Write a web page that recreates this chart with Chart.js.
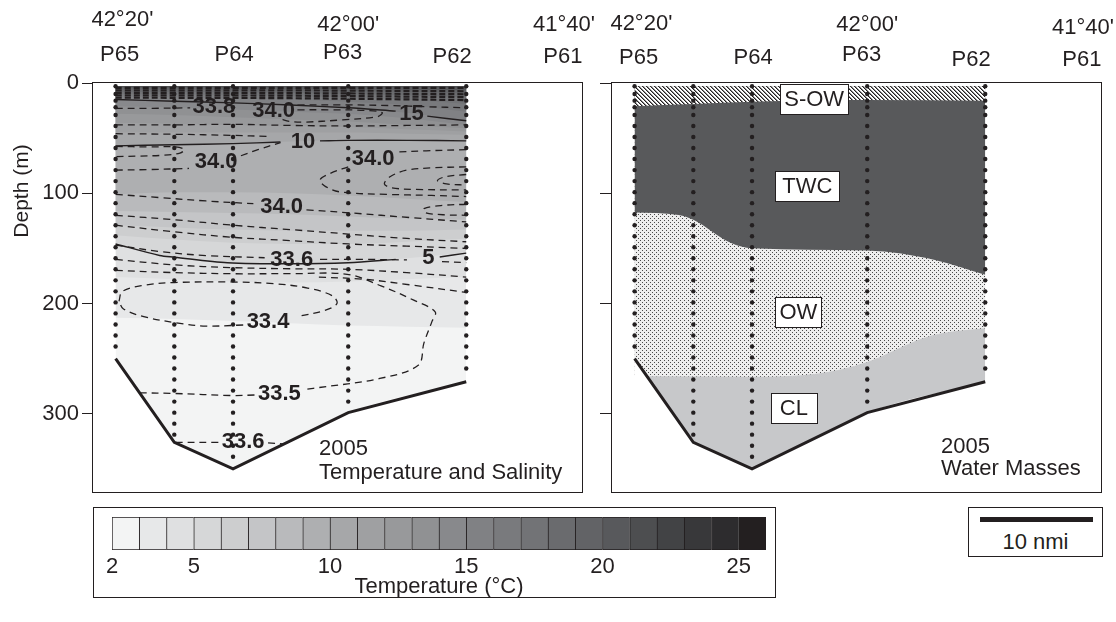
<!DOCTYPE html>
<html lang="en">
<head>
<meta charset="utf-8">
<title>2005 section: temperature, salinity and water masses</title>
<script src="https://cdn.jsdelivr.net/npm/chart.js@4.4.1/dist/chart.umd.min.js"></script>
<style>
  html, body { margin: 0; padding: 0; background: #fff; }
  body { position: relative; width: 1116px; height: 622px; overflow: hidden;
         font-family: "Liberation Sans", Arial, Helvetica, sans-serif; color: #231f20; }
  canvas { position: absolute; display: block; }
  #ts { left: 0; top: 0; }
  #wm { left: 600px; top: 0; }
  #cb { left: 93px; top: 507px; }
  #scale { position: absolute; left: 968px; top: 507px; width: 135px; height: 50px;
           border: 1px solid #231f20; box-sizing: border-box; }
  #scaleBar { position: absolute; left: 11px; top: 9px; height: 5px; background: #231f20; }
  #scaleText { position: absolute; left: 0; right: 0; top: 22px; text-align: center;
               font-size: 22px; line-height: 24px; }
</style>
</head>
<body>
<canvas id="ts" width="600" height="520"></canvas>
<canvas id="wm" width="516" height="500"></canvas>
<canvas id="cb" width="683" height="91"></canvas>
<div id="scale"><div id="scaleBar"></div><div id="scaleText">10 nmi</div></div>
<script>
const FONT = '"Liberation Sans", Arial, Helvetica, sans-serif';
const INK = '#231f20';

// ---- section frame (distance along the section in nmi, depth in m) ----
const distMax = 43.3;
const depthMax = 371;
const surfaceDepth = 3;
const depthTicks = [0, 100, 200, 300];
const scaleBarNmi = 10;

// ---- CTD stations ----
const stationDist   = [2.0, 7.2, 12.4, 22.6, 33.05];
const bottomDepth   = [250, 326, 350, 299, 271];
const deepestSample = [241, 320, 343, 292, 261];
const sampleDepths  = [3, 10, 16, 22, 29, 39, 49, 59, 69, 79, 89, 99, 109, 119, 129, 139, 149, 159,
                       169, 179, 189, 199, 209, 219, 229, 239, 249, 259, 269, 279, 289, 299, 309, 319, 329, 339];

// ---- header labels ----
const stationNames    = ['P65', 'P64', 'P63', 'P62', 'P61'];
const stationNameDist = [2.35, 12.5, 22.1, 31.8, 41.6];
const latNames        = ["42\u00b020'", "42\u00b000'", "41\u00b040'"];
const latDist         = [2.6, 22.6, 41.7];

// ---- temperature field: isotherm depths (m) on the contour grid ----
const contourGrid = [2.0, 7.2, 12.4, 17.5, 22.6, 27.8, 33.05];
const isoTemps = [3, 4, 5, 6, 7, 8, 9, 10, 11, 12, 13, 14, 15, 16, 17, 18, 19, 20, 21];
const isoDepths = [
  [213, 214, 216, 218, 220, 221, 222],   // 3
  [176, 178, 180, 181, 180, 178, 176],   // 4
  [146, 158, 163, 164, 163, 159, 154],   // 5
  [138, 142, 145, 146, 146, 144, 141],   // 6
  [129, 131, 133, 134, 134, 134, 133],   // 7
  [116, 117, 118, 119, 121, 123, 124],   // 8
  [101,  99,  99, 100, 102, 105, 108],   // 9
  [ 57,  56,  55,  53,  52,  52, 52.5],  // 10
  [ 45,  45,  45,  45,  45,  46,  47],   // 11
  [ 36,  37,  38,  39,  40,  42,  44],   // 12
  [ 28,  29,  31,  33,  35,  38,  41],   // 13
  [ 21,  22,  24,  26,  28,  32,  38],   // 14
  [ 15, 16.5, 18,  20, 22.5, 27,  34],   // 15
  [ 12,  13,  14,  15,  17,  20,  26],   // 16
  [ 10, 10.5, 11,  12,  13,  15,  19],   // 17
  [  8,   8, 8.5,   9,  10,  11,  13],   // 18
  [  6,   6, 6.5,   7, 7.5,   8,   9],   // 19
  [4.5, 4.5,   5, 5.2, 5.5,   6, 6.5],   // 20
  [3.6, 3.6, 3.8, 3.8,   4,   4, 4.2]    // 21
];

// labelled isotherms (null = gap for the label)
const iso15Line = [[2.0, 15], [7.2, 16.5], [12.4, 18], [17.5, 20], [22.6, 22.5], [26.8, 25.5], null, [29.6, 30], [33.05, 34.3]];
const iso10Line = [[2.0, 57], [7.2, 56], [12.4, 55], [16.6, 53.5], null, [20.1, 52.5], [22.6, 52], [27.8, 52], [33.05, 52.5]];
const iso5Line  = [[2.0, 146], [5.9, 156.5], [7.2, 158], [11.9, 163], [17.5, 164], [22.6, 163], [26.8, 160], null, [30.7, 157.8], [33.05, 154.3]];

// ---- salinity field: isohaline traces (null = gap for the label) ----
const salSurface = [
  [[2.0, 4.5], [33.05, 4.5]],
  [[2.0, 6.7], [17.5, 6.7], [33.05, 7.5]],
  [[2.0, 8.9], [17.5, 9.2], [33.05, 10.2]],
  [[2.0, 11.1], [17.5, 11.5], [33.05, 12.8]],
  [[2.0, 13.3], [17.5, 13.8], [33.05, 15.5]]
];
const salContours = [
  [[2.0, 23], [5, 23], [8.6, 22.5]],
  [[18.1, 20], [22, 19.8], [26.5, 20.5], [29.5, 21.5], [33.05, 22.5]],
  [[18.1, 24.3], [21, 24.3], [24, 24.8], [25.6, 26.8], [25.2, 30.5], [22, 33.5], [18.6, 35.5], [17.4, 34.8], [16.6, 32.5]],
  [[2.0, 38], [7.2, 38], [12.4, 37.5], [17.5, 38.5], [22.6, 39], [27.8, 38.5], [33.05, 38]],
  [[2.0, 46], [7.2, 46.5], [12.4, 47.5], [15.5, 48.5]],
  [[2.0, 57.5], [5, 58], [7.3, 58], [8.1, 60.5], [7.7, 63.5], [6.3, 65.5], [4, 66.3], [2.0, 66.8]],
  [[2.0, 79], [5, 78.5], [8.5, 77.5], null, [13.1, 66], [14.6, 60.5], [16.6, 54]],
  [[33.05, 60.5], [29.5, 61.5], [26.9, 62.5], null, [22.6, 76], [21, 82], [20.1, 88], [20.6, 94], [22, 99], [26, 101], [30, 102], [33.05, 103]],
  [[33.05, 76], [30, 77], [27.8, 79], [26.3, 85], [25.8, 91.5], [26.4, 95], [28.5, 96.5], [33.05, 97]],
  [[33.05, 83], [31.2, 85], [30.5, 88.5], [31.3, 91.5], [33.05, 92.5]],
  [[2.0, 101], [6, 104], [10, 107], [14.2, 109.5], null, [18.9, 115], [23, 118], [28, 122], [33.05, 126]],
  [[33.05, 110], [31, 111], [29.3, 114], [29.4, 117.5], [31, 119.5], [33.05, 120]],
  [[2.0, 120], [7.2, 124], [12.4, 129], [17.5, 133], [22.6, 137], [27.8, 141], [33.05, 144]],
  [[2.0, 129], [7.2, 135], [12.4, 140], [17.5, 143], [22.6, 146], [27.8, 148], [33.05, 150]],
  [[2.0, 147], [6, 153], [10, 156.5], [15.2, 158.5], null, [20.1, 160], [24, 160], [27.8, 160.5], null, [30.9, 162], [33.05, 163]],
  [[2.0, 160], [7.2, 165], [12.4, 167.5], [17.5, 168.5], [22.6, 169], [27.8, 172], [33.05, 176]],
  [[2.0, 170], [7.2, 172], [12.4, 173], [17.5, 173], [22.5, 173.5], [25.5, 184], [28.4, 197], [30.3, 207.6], [30, 216.7],
   [29.3, 236], [28.8, 256], [25.4, 268], [19.5, 277], [18.8, 278], null, [14.3, 283], [12.4, 283.5], [7.1, 281.6], [4.2, 281]],
  [[20, 176], [24, 178], [28, 183], [33.05, 190]],
  [[2.3, 198], [2.6, 189], [4.5, 183.5], [7.2, 181], [12.4, 180.5], [16, 182], [19, 186], [21.2, 193], [21.6, 200],
   [20.6, 206], [18.3, 211.5], null, [13.3, 219.5], [10, 220.5], [7.7, 218], [4.5, 212], [2.7, 205], [2.3, 198]],
  [[7.3, 326], [11.1, 326], null, [15.5, 326.5], [16.9, 327.5]]
];

// contour labels
const contourLabelText  = ['33.8', '34.0', '15', '10', '34.0', '34.0', '34.0', '33.6', '5', '33.4', '33.5', '33.6'];
const contourLabelDist  = [10.7, 16.0, 28.2, 18.6, 10.9, 24.8, 16.7, 17.6, 29.7, 15.5, 16.5, 13.3];
const contourLabelDepth = [21.5, 25.2, 28.1, 53.4, 71.5, 68.8, 112.5, 160.6, 158.8, 217, 282.5, 326];

// ---- water masses: lower boundaries (m) ----
const sowBottom = [[2.0, 21], [7.2, 19], [12.4, 17], [22.6, 15.5], [33.05, 16]];
const twcBottom = [[2.0, 117.5], [5.9, 119.7], [7.2, 124], [10.5, 145], [12.4, 150], [22.6, 152], [28.6, 160.5], [33.05, 174]];
const owBottom  = [[2.0, 266], [4.15, 266], [12.4, 266.5], [18.3, 263.5], [22.6, 253], [27.4, 232], [29.2, 227], [33.05, 222.5]];
const massNames = ['S-OW', 'TWC', 'OW', 'CL'];
const massLabelDist  = [17.9, 17.3, 16.5, 16.1];
const massLabelDepth = [14.7, 93.2, 208, 295];

// ---- temperature colour scale ----
const tempLevels = [2, 3, 4, 5, 6, 7, 8, 9, 10, 11, 12, 13, 14, 15, 16, 17, 18, 19, 20, 21, 22, 23, 24, 25];
const tempTicks  = [2, 5, 10, 15, 20, 25];
const tempShades = ['#f3f4f4', '#e7e8e9', '#dfe0e1', '#d6d7d8', '#cdcecf', '#c4c5c7', '#b9babc', '#aeafb1',
                    '#a6a7a9', '#9fa0a2', '#98999b', '#909193', '#88898c', '#808184', '#797a7d', '#727376',
                    '#6a6b6e', '#626366', '#58595c', '#4d4e50', '#424345', '#38383a', '#2d2c2e', '#231f20'];

Chart.defaults.font.family = FONT;
Chart.defaults.color = INK;

// ---------- helpers ----------
function toPts(pairs) {
  let lastX = 0;
  return pairs.map(p => {
    if (!p) return { x: lastX, y: null };
    lastX = p[0];
    return { x: p[0], y: p[1] };
  });
}
const bathyPairs = stationDist.map((d, i) => [d, bottomDepth[i]]);

function fillDS(pairs, color, order) {
  return { data: toPts(pairs), borderWidth: 0, pointRadius: 0, backgroundColor: color,
           fill: { value: surfaceDepth }, cubicInterpolationMode: 'monotone', order };
}
function maskDS() {
  return { data: toPts(bathyPairs), borderWidth: 0, pointRadius: 0, backgroundColor: '#ffffff',
           fill: 'start', tension: 0, order: 60 };
}
function dashDS(pairs, width, dash) {
  return { data: toPts(pairs), borderColor: INK, borderWidth: width || 1.3, borderDash: dash || [7, 5],
           pointRadius: 0, fill: false, tension: 0.35, spanGaps: false, order: 30 };
}
function solidDS(pairs) {
  return { data: toPts(pairs), borderColor: INK, borderWidth: 1.4, pointRadius: 0, fill: false,
           tension: 0.3, spanGaps: false, order: 25 };
}
function bottomDS() {
  return { data: toPts(bathyPairs), borderColor: INK, borderWidth: 3, pointRadius: 0, fill: false,
           tension: 0, order: 20 };
}
function stationDots() {
  const pts = [];
  stationDist.forEach((xd, i) => sampleDepths.forEach(d => { if (d <= deepestSample[i]) pts.push({ x: xd, y: d }); }));
  return { data: pts, showLine: false, pointRadius: 2.2, pointBackgroundColor: INK, pointBorderWidth: 0, order: 10 };
}

function hatchPattern() {
  const c = document.createElement('canvas'); c.width = 4; c.height = 4;
  const g = c.getContext('2d');
  g.fillStyle = '#ffffff'; g.fillRect(0, 0, 4, 4);
  for (let i = 0; i < 4; i++) {
    g.fillStyle = INK; g.fillRect(i, i, 1, 1);
    g.fillStyle = '#8a8a8a'; g.fillRect((i + 1) % 4, i, 1, 1);
  }
  return g.createPattern(c, 'repeat');
}
function stipplePattern() {
  const c = document.createElement('canvas'); c.width = 4; c.height = 4;
  const g = c.getContext('2d');
  g.fillStyle = '#eeeeee'; g.fillRect(0, 0, 4, 4);
  g.fillStyle = '#4a4a4a'; g.fillRect(0, 0, 1, 1); g.fillRect(2, 2, 1, 1);
  return g.createPattern(c, 'repeat');
}

// frame, header, labels and captions drawn on top of each section
const sectionDecor = {
  id: 'sectionDecor',
  afterDatasetsDraw(chart, _args, o) {
    const { ctx, chartArea: ca, scales: { x, y } } = chart;
    ctx.save();
    const L = Math.round(ca.left), T = Math.round(ca.top), R = Math.round(ca.right), B = Math.round(ca.bottom);
    ctx.strokeStyle = INK; ctx.lineWidth = 1;
    ctx.strokeRect(L - 0.5, T - 0.5, R - L + 1, B - T + 1);

    ctx.fillStyle = INK;
    ctx.textAlign = 'center'; ctx.textBaseline = 'middle';
    ctx.font = '22px ' + FONT;
    latNames.forEach((t, i) => ctx.fillText(t, x.getPixelForValue(latDist[i]), o.latY[i]));
    stationNames.forEach((t, i) => ctx.fillText(t, x.getPixelForValue(stationNameDist[i]), o.stationY[i]));

    if (o.contourLabels) {
      ctx.font = 'bold 22px ' + FONT;
      contourLabelText.forEach((t, i) =>
        ctx.fillText(t, x.getPixelForValue(contourLabelDist[i]), y.getPixelForValue(contourLabelDepth[i])));
    }
    if (o.massLabels) {
      ctx.font = '22px ' + FONT;
      massNames.forEach((t, i) => {
        const cx = x.getPixelForValue(massLabelDist[i]), cy = y.getPixelForValue(massLabelDepth[i]);
        const w = Math.round(ctx.measureText(t).width + 2 * o.boxPad[i]), h = 30;
        const bx = Math.round(cx - w / 2) + 0.5, by = Math.round(cy - h / 2) + 0.5;
        ctx.fillStyle = '#ffffff'; ctx.fillRect(bx, by, w, h);
        ctx.strokeStyle = INK; ctx.lineWidth = 1; ctx.strokeRect(bx, by, w, h);
        ctx.fillStyle = INK; ctx.fillText(t, cx, cy + 1);
      });
    }

    ctx.textAlign = 'left'; ctx.textBaseline = 'alphabetic';
    ctx.font = '22px ' + FONT;
    o.caption.forEach((t, i) => ctx.fillText(t, ca.left + o.captionX, ca.top + o.captionY[i]));

    if (o.yTitle) {
      ctx.save();
      ctx.translate(o.yTitle.x, o.yTitle.y);
      ctx.rotate(-Math.PI / 2);
      ctx.textAlign = 'center'; ctx.textBaseline = 'middle';
      ctx.font = '21px ' + FONT;
      ctx.fillText(o.yTitle.text, 0, 0);
      ctx.restore();
    }
    ctx.restore();
  }
};

function sectionOptions(withLabels, bottomPad, decor) {
  return {
    responsive: false, animation: false, events: [], devicePixelRatio: 1,
    layout: { padding: { top: 83, bottom: bottomPad, left: 0, right: withLabels ? 18 : 15 } },
    plugins: { legend: { display: false }, tooltip: { enabled: false }, sectionDecor: decor },
    scales: {
      x: { type: 'linear', min: 0, max: distMax, display: false },
      y: {
        type: 'linear', min: 0, max: depthMax, reverse: true,
        afterBuildTicks: s => { s.ticks = depthTicks.map(v => ({ value: v })); },
        afterFit: s => { s.width = withLabels ? 93 : 12; },
        grid: { drawOnChartArea: false, drawTicks: true, tickLength: withLabels ? 11 : 12, tickColor: INK, tickWidth: 1 },
        border: { display: false },
        ticks: { display: withLabels, padding: 3, color: INK, font: { size: 22 } }
      }
    }
  };
}

// ---------- temperature & salinity section ----------
const tsData = [fillDS(bathyPairs, tempShades[0], 200)];
isoTemps.forEach((t, i) =>
  tsData.push(fillDS(contourGrid.map((g, j) => [g, isoDepths[i][j]]), tempShades[t - tempLevels[0]], 199 - i)));
tsData.push(maskDS());
salSurface.forEach(c => tsData.push(dashDS(c, 2.2, [6, 3])));
salContours.forEach(c => tsData.push(dashDS(c)));
[iso15Line, iso10Line, iso5Line].forEach(c => tsData.push(solidDS(c)));
tsData.push(bottomDS());
tsData.push(stationDots());

const tsChart = new Chart(document.getElementById('ts'), {
  type: 'line',
  data: { datasets: tsData },
  options: sectionOptions(true, 28, {
    latY: [20, 25, 25], stationY: [55, 55, 53, 57, 57],
    contourLabels: true,
    caption: ['2005', 'Temperature and Salinity'], captionX: 226, captionY: [372, 396],
    yTitle: { text: 'Depth (m)', x: 22, y: 191 }
  }),
  plugins: [sectionDecor]
});

// ---------- water-mass section ----------
const wmData = [
  fillDS(bathyPairs, '#c7c8ca', 200),
  fillDS(owBottom, stipplePattern(), 199),
  fillDS(twcBottom, '#58595b', 198),
  fillDS(sowBottom, hatchPattern(), 197),
  maskDS(),
  bottomDS(),
  stationDots()
];
new Chart(document.getElementById('wm'), {
  type: 'line',
  data: { datasets: wmData },
  options: sectionOptions(false, 8, {
    latY: [24, 25, 28], stationY: [58, 58, 55, 60, 60],
    massLabels: true, boxPad: [4, 7, 4, 9],
    caption: ['2005', 'Water Masses'], captionX: 329, captionY: [370, 392]
  }),
  plugins: [sectionDecor]
});

// ---------- temperature colour bar ----------
const boxFrame = {
  id: 'boxFrame',
  afterDraw(chart) {
    const { ctx, width, height } = chart;
    ctx.save(); ctx.strokeStyle = INK; ctx.lineWidth = 1;
    ctx.strokeRect(0.5, 0.5, width - 1, height - 1); ctx.restore();
  }
};
new Chart(document.getElementById('cb'), {
  type: 'bar',
  data: { datasets: [{
    data: tempLevels.map(t => ({ x: t + 0.5, y: 1 })),
    backgroundColor: tempShades, borderColor: INK, borderSkipped: false,
    borderWidth: c => ({ left: 1, top: 1, bottom: 1, right: c.dataIndex === tempLevels.length - 1 ? 1 : 0 }),
    barPercentage: 1, categoryPercentage: 1
  }] },
  options: {
    responsive: false, animation: false, events: [], devicePixelRatio: 1,
    layout: { padding: { left: 19, right: 10, top: 10, bottom: 0 } },
    plugins: { legend: { display: false }, tooltip: { enabled: false } },
    scales: {
      x: { type: 'linear', offset: false, min: tempLevels[0], max: tempLevels[tempLevels.length - 1] + 1,
           afterBuildTicks: s => { s.ticks = tempTicks.map(v => ({ value: v })); },
           afterFit: s => { s.height = 48; },
           grid: { display: false, drawTicks: false, offset: false }, border: { display: false },
           ticks: { color: INK, font: { size: 22 }, padding: 4, maxRotation: 0, autoSkip: false },
           title: { display: true, text: 'Temperature (\u00b0C)', color: INK, font: { size: 22, lineHeight: 1 }, padding: 0 } },
      y: { display: false, min: 0, max: 1 }
    }
  },
  plugins: [boxFrame]
});

// scale bar length taken from the section's distance axis
const sx = tsChart.scales.x;
document.getElementById('scaleBar').style.width =
  Math.round(sx.getPixelForValue(scaleBarNmi) - sx.getPixelForValue(0)) + 'px';
</script>
</body>
</html>
